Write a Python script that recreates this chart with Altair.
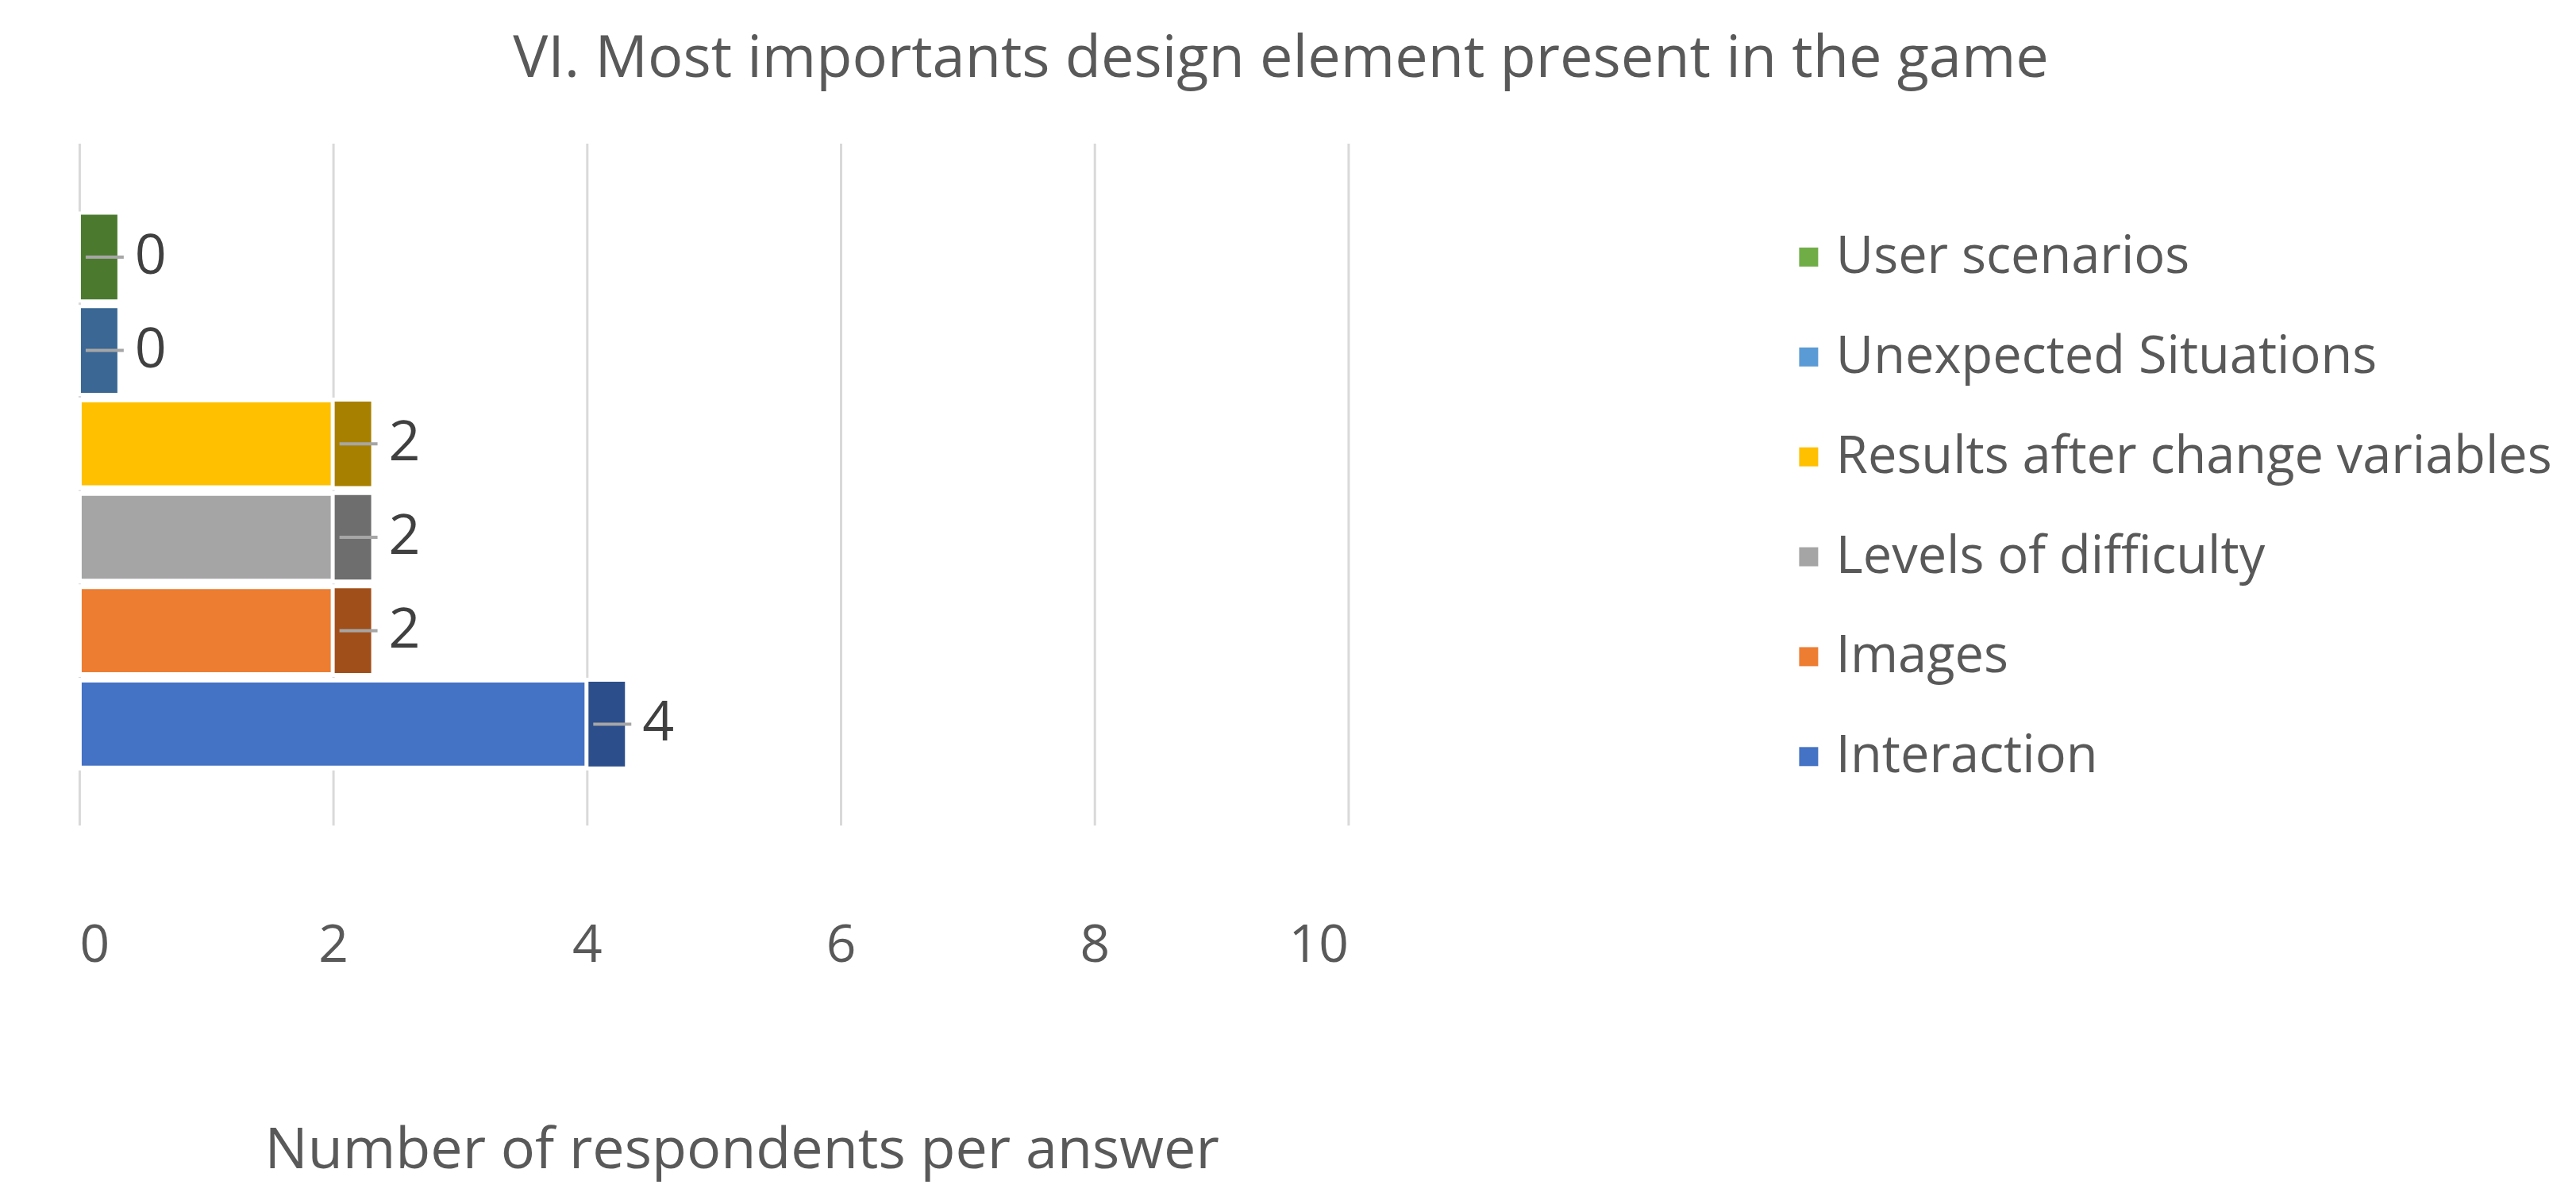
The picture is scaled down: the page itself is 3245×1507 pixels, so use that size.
import altair as alt
import pandas as pd

categories = ["User scenarios", "Unexpected Situations", "Results after change variables",
              "Levels of difficulty", "Images", "Interaction"]
values = [0, 0, 2, 2, 2, 4]
face_colors = ["#70AD47", "#5B9BD5", "#FFC000", "#A5A5A5", "#ED7D31", "#4472C4"]
side_colors = ["#4B7A2F", "#3A6794", "#A88000", "#6E6E6E", "#A14F1A", "#2C4E8A"]
x_ticks = [0, 2, 4, 6, 8, 10]

df = pd.DataFrame({"category": categories, "value": values, "side": side_colors})

FONT = "Open Sans"
TXT = "#595959"

y_enc = alt.Y("category:N", sort=categories, axis=None,
              scale=alt.Scale(paddingInner=0.06, paddingOuter=0.68, align=0.55))
x_scale = alt.Scale(domain=[0, 10], nice=False, zero=True)
x_axis = alt.Axis(values=x_ticks, grid=True, gridColor="#D9D9D9", gridWidth=3,
                  domain=False, ticks=False, labelFontSize=66, labelColor=TXT,
                  labelFont=FONT, labelPadding=120,
                  title="Number of respondents per answer", titleFontSize=72,
                  titleFont=FONT, titleColor=TXT, titleFontWeight="normal",
                  titlePadding=190, titleX=835)
x_enc = alt.X("value:Q", scale=x_scale, axis=x_axis)

base = alt.Chart(df)

bars = base.mark_bar(stroke="white", strokeWidth=6).encode(
    x=x_enc,
    y=y_enc,
    color=alt.Color("category:N", scale=alt.Scale(domain=categories, range=face_colors),
                    legend=alt.Legend(title=None, orient="none", legendX=2148, legendY=111,
                                      symbolType="square", symbolSize=576,
                                      symbolStrokeWidth=0, labelFontSize=65,
                                      labelFont=FONT, labelColor=TXT, labelOffset=2,
                                      rowPadding=60, padding=0, labelLimit=2000)),
)

sides = base.mark_bar(x2Offset=50, stroke="white", strokeWidth=4).encode(
    x=x_enc,
    x2="value:Q",
    y=y_enc,
    fill=alt.Fill("side:N", scale=None),
)

leaders = base.mark_rule(xOffset=8, x2Offset=56, strokeWidth=4, color="#A6A6A6").encode(
    x=x_enc,
    x2="value:Q",
    y=y_enc,
)

labels = base.mark_text(align="left", baseline="middle", dx=70, fontSize=70, font=FONT,
                        color="#404040").encode(
    x=x_enc,
    y=y_enc,
    text="value:Q",
)

chart = alt.layer(bars, sides, leaders, labels).properties(
    width=1600, height=860,
    title=alt.Title("VI. Most importants design element present in the  game",
                    fontSize=74, font=FONT, color=TXT, fontWeight="normal",
                    anchor="middle", dx=715, offset=68),
    autosize=alt.AutoSizeParams(type="none"),
    padding={"left": 92, "top": 172, "right": 1540, "bottom": 460},
).configure_view(stroke=None)

chart.save("out.html", embed_options={"renderer": "svg", "actions": False})
